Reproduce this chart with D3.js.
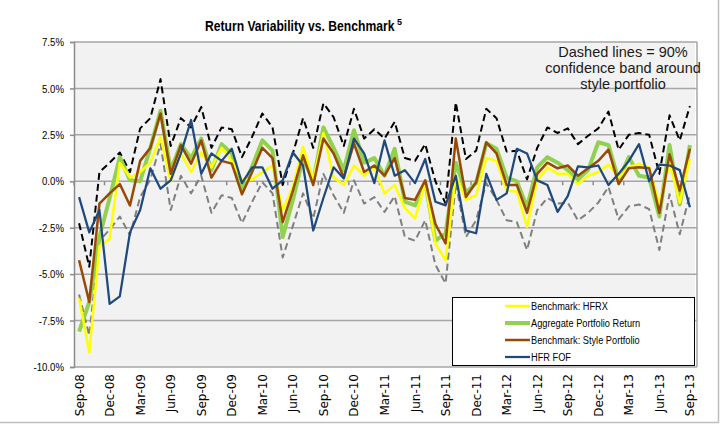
<!DOCTYPE html>
<html>
<head>
<meta charset="utf-8">
<script src="https://cdn.jsdelivr.net/npm/d3@7"></script>
<style>
  body { margin: 0; background: #fff; }
  .sans { font-family: "Liberation Sans", Arial, sans-serif; }
</style>
</head>
<body>
<div class="chart"></div>
<script>

// categories
var months = [
  "Sep-08","Oct-08","Nov-08","Dec-08","Jan-09","Feb-09","Mar-09","Apr-09","May-09","Jun-09",
  "Jul-09","Aug-09","Sep-09","Oct-09","Nov-09","Dec-09","Jan-10","Feb-10","Mar-10","Apr-10",
  "May-10","Jun-10","Jul-10","Aug-10","Sep-10","Oct-10","Nov-10","Dec-10","Jan-11","Feb-11",
  "Mar-11","Apr-11","May-11","Jun-11","Jul-11","Aug-11","Sep-11","Oct-11","Nov-11","Dec-11",
  "Jan-12","Feb-12","Mar-12","Apr-12","May-12","Jun-12","Jul-12","Aug-12","Sep-12","Oct-12",
  "Nov-12","Dec-12","Jan-13","Feb-13","Mar-13","Apr-13","May-13","Jun-13","Jul-13","Aug-13",
  "Sep-13"
];

// monthly returns (%)
var hfrx = [
  -6.3, -9.2, -3.5, -3.1, 1.0, 0.2, 0.5, 1.0, 2.4, 0.0,
  1.5, 0.5, 1.55, 0.75, 1.8, 1.1, 0.1, 0.1, 0.5, 0.85,
  -1.55, -0.3, 1.85, 0.1, 2.6, 0.2, -0.2, 0.85, 0.3, 0.75,
  -0.65, -0.2, -1.45, -2.0, -0.1, -3.35, -4.25, 0.3, -1.0, -0.75,
  1.25, 1.1, -0.5, -0.55, -2.45, 0.05, 0.75, 0.4, 0.4, -0.15,
  0.3, 0.5, 0.9, 0.2, 0.75, 0.95, 0.75, -1.25, 1.0, -1.15,
  1.2
];
var aggregate = [
  -8.1, -6.5, -3.0, -0.9, 1.3, 0.05, 0.0, 1.8, 3.8, 0.6,
  2.0, 1.25, 2.3, 0.6, 2.0, 1.5, -0.5, 0.8, 2.2, 1.65,
  -3.0, -1.0, 1.25, 0.0, 2.9, 1.8, 0.6, 2.75, 1.0, 1.25,
  0.3, 1.75, -1.1, -1.3, -0.05, -3.2, -2.8, 1.0, -0.6, -0.1,
  2.05, 1.75, 0.2, 0.0, -1.4, 0.75, 1.3, 1.0, 0.6, 0.1,
  0.6, 2.1, 1.95, 0.05, 1.3, 0.3, 0.2, -1.9, 1.95, -1.25,
  1.95
];
var stylePortfolio = [
  -4.25, -6.5, -1.2, -0.65, -0.15, -1.3, 1.1, 1.8, 3.65, 0.4,
  1.95, 0.95, 2.2, 0.2, 1.1, 0.95, -0.7, 0.5, 1.8, 1.25,
  -2.2, -0.5, 1.4, -0.2, 2.3, 1.5, 0.2, 2.05, 0.5, 0.85,
  0.3, 1.25, -0.9, -1.0, 0.05, -2.3, -3.35, 2.3, -0.85, -0.05,
  2.1, 1.5, -0.2, -0.2, -1.7, 0.4, 1.0, 0.7, 0.85, 0.3,
  0.7, 1.1, 1.7, -0.15, 0.7, 0.75, 0.7, -1.7, 1.45, -0.5,
  1.75
];
var hfrFof = [
  -0.85, -2.75, -1.55, -6.6, -6.2, -2.75, -1.55, 0.7, -0.4, 0.05,
  1.5, 3.3, 0.4, 1.5, 1.1, 1.75, -0.1, 0.75, 0.75, -0.4,
  0.05, 1.55, 0.85, -2.65, -0.9, 0.75, 0.15, 2.3, 1.5, -0.1,
  2.2, 0.3, 0.6, -0.1, 1.2, -1.1, -1.3, 0.3, -2.65, -2.8,
  0.4, -1.0, -0.65, 1.75, 1.5, 0.05, -0.2, -1.65, -0.8, 0.8,
  0.75, 0.85, -0.2, 0.4, 1.1, 2.0, 0.0, 0.9, 0.85, 0.6,
  -1.4
];
// 90% confidence band around style portfolio
var bandUpper = [
  -2.26, -4.6, 0.5, 1.0, 1.55, 0.5, 2.85, 3.4, 5.5, 1.9,
  3.4, 2.9, 4.0, 1.8, 2.9, 2.8, 1.3, 2.4, 3.65, 2.9,
  -0.2, 1.5, 3.4, 1.8, 4.2, 3.45, 1.9, 3.9, 2.3, 2.8,
  2.3, 3.2, 1.25, 1.1, 2.0, 0.0, -1.2, 4.25, 1.2, 1.65,
  3.9, 3.4, 1.6, 1.65, 0.1, 1.8, 2.9, 2.6, 2.85, 2.0,
  2.45, 2.85, 3.75, 1.7, 2.5, 2.6, 2.5, 0.4, 3.55, 2.2,
  4.05
];
var bandLower = [
  -6.1, -8.3, -3.2, -2.6, -1.9, -2.9, -0.85, 0.1, 2.0, -1.55,
  0.3, -0.65, 0.3, -1.7, -0.75, -0.9, -2.25, -1.1, -0.05, -0.65,
  -4.1, -2.4, -0.65, -2.0, 0.4, -0.75, -1.7, 0.05, -1.2, -0.85,
  -1.65, -0.8, -3.0, -3.2, -2.1, -4.5, -5.5, -0.1, -3.0, -2.1,
  -0.1, -1.0, -2.1, -2.2, -3.7, -1.55, -0.9, -1.2, -1.15, -2.1,
  -1.7, -1.15, -0.3, -2.05, -1.35, -1.25, -1.5, -3.7, -0.7, -2.85,
  -0.7
];

var yTicks = [-10, -7.5, -5, -2.5, 0, 2.5, 5, 7.5];

// dimensions
var width = 723, height = 426;
var plot = {left: 74, right: 695, top: 42, bottom: 367};
var squeeze = 0.84;   // narrow text, closer to the original Calibri

var svg = d3.select(".chart")
  .append("svg")
  .attr("width", width)
  .attr("height", height);

// scales
var x = d3.scalePoint()
  .domain(months)
  .range([plot.left, plot.right])
  .padding(0.5);
var y = d3.scaleLinear()
  .domain([-10, 7.5])
  .range([plot.bottom, plot.top]);

// outer frame (right / bottom edges visible)
svg.append("line")
  .attr("x1", 718.5).attr("x2", 718.5).attr("y1", 0).attr("y2", 423)
  .attr("stroke", "#bfbfbf").attr("stroke-width", 1.5);
svg.append("line")
  .attr("x1", 0).attr("x2", 719).attr("y1", 422.5).attr("y2", 422.5)
  .attr("stroke", "#bfbfbf").attr("stroke-width", 1.5);

// plot area
svg.append("rect")
  .attr("x", plot.left)
  .attr("y", plot.top)
  .attr("width", plot.right - plot.left)
  .attr("height", plot.bottom - plot.top)
  .attr("fill", "#f2f2f2");

// gridlines
svg.selectAll(".grid")
  .data(yTicks)
  .enter()
  .append("line")
  .attr("class", "grid")
  .attr("x1", plot.left)
  .attr("x2", plot.right + 2)
  .attr("y1", function(d) { return y(d); })
  .attr("y2", function(d) { return y(d); })
  .attr("stroke", "#a6a6a6")
  .attr("stroke-width", 1.5);

// right edge of plot area
svg.append("line")
  .attr("x1", plot.right + 2).attr("x2", plot.right + 2)
  .attr("y1", plot.top).attr("y2", plot.bottom)
  .attr("stroke", "#a6a6a6").attr("stroke-width", 1.5);

// y axis
var yAxis = svg.append("g")
  .attr("transform", "translate(" + plot.left + ",0)")
  .call(d3.axisLeft(y)
    .tickValues(yTicks)
    .tickSize(4)
    .tickFormat(function(d) { return d.toFixed(1) + "%"; }));
yAxis.select(".domain").attr("stroke", "#8c8c8c").attr("stroke-width", 1.5);
yAxis.selectAll(".tick line").attr("stroke", "#8c8c8c").attr("stroke-width", 1.5);
yAxis.selectAll(".tick text")
  .attr("class", "sans")
  .attr("x", -10 / squeeze)
  .attr("transform", "scale(" + squeeze + ",1)")
  .attr("font-size", "11.5px")
  .attr("fill", "#000");

// category ticks on the 0% line, every 3 months
var step = x.step();
var tickIdx = d3.range(0, months.length, 3);
svg.selectAll(".xtick")
  .data(tickIdx)
  .enter()
  .append("line")
  .attr("class", "xtick")
  .attr("x1", function(i) { return x(months[i]) - step / 2; })
  .attr("x2", function(i) { return x(months[i]) - step / 2; })
  .attr("y1", y(0))
  .attr("y2", y(0) + 4)
  .attr("stroke", "#8c8c8c")
  .attr("stroke-width", 1.5);

// category labels at the bottom
svg.selectAll(".xlabel")
  .data(tickIdx)
  .enter()
  .append("text")
  .attr("class", "xlabel")
  .attr("transform", function(i) {
    return "translate(" + (x(months[i]) + 4.5) + "," + (plot.bottom + 7) + ") rotate(-90)";
  })
  .attr("text-anchor", "end")
  .attr("font-family", "DejaVu Sans, Verdana, sans-serif")
  .attr("font-size", "12px")
  .text(function(i) { return months[i]; });

// lines
var line = d3.line()
  .x(function(d, i) { return x(months[i]); })
  .y(function(d) { return y(d); });

var series = [
  {values: bandLower, color: "#7f7f7f", w: 2, dash: "7,4"},
  {values: bandUpper, color: "#000000", w: 2, dash: "7,4"},
  {values: aggregate, color: "#92d050", w: 4},
  {values: hfrx, color: "#ffff00", w: 2.5},
  {values: stylePortfolio, color: "#984807", w: 2.5},
  {values: hfrFof, color: "#1f497d", w: 2.25}
];

svg.selectAll(".series")
  .data(series)
  .enter()
  .append("path")
  .attr("class", "series")
  .attr("d", function(s) { return line(s.values); })
  .attr("fill", "none")
  .attr("stroke", function(s) { return s.color; })
  .attr("stroke-width", function(s) { return s.w; })
  .attr("stroke-dasharray", function(s) { return s.dash || null; })
  .attr("stroke-linejoin", "round");

// title with superscript note
svg.append("text")
  .attr("class", "sans")
  .attr("transform", "translate(205,31) scale(0.81,1)")
  .attr("font-size", "15px")
  .attr("font-weight", "bold")
  .text("Return Variability vs. Benchmark");
svg.append("text")
  .attr("class", "sans")
  .attr("x", 397)
  .attr("y", 25)
  .attr("font-size", "9px")
  .attr("font-weight", "bold")
  .text("5");

// note
var note = ["Dashed lines = 90%", "confidence band around", "style portfolio"];
svg.selectAll(".note")
  .data(note)
  .enter()
  .append("text")
  .attr("class", "note sans")
  .attr("x", 623)
  .attr("y", function(d, i) { return 57 + i * 16; })
  .attr("text-anchor", "middle")
  .attr("font-size", "14.5px")
  .attr("fill", "#1a1a1a")
  .text(function(d) { return d; });

// legend
var legendItems = [
  {name: "Benchmark: HFRX", color: "#ffff00", w: 2.5},
  {name: "Aggregate Portfolio Return", color: "#92d050", w: 4},
  {name: "Benchmark: Style Portfolio", color: "#984807", w: 2.5},
  {name: "HFR FOF", color: "#1f497d", w: 2.25}
];
svg.append("rect")
  .attr("x", 452.5)
  .attr("y", 297.5)
  .attr("width", 242)
  .attr("height", 68)
  .attr("fill", "#fff")
  .attr("stroke", "#000")
  .attr("stroke-width", 1);
var legend = svg.selectAll(".legend")
  .data(legendItems)
  .enter()
  .append("g")
  .attr("class", "legend")
  .attr("transform", function(d, i) { return "translate(505," + (306 + i * 17) + ")"; });
legend.append("line")
  .attr("x1", 0).attr("x2", 25)
  .attr("stroke", function(d) { return d.color; })
  .attr("stroke-width", function(d) { return d.w; });
legend.append("text")
  .attr("class", "sans")
  .attr("transform", "translate(26,4) scale(" + squeeze + ",1)")
  .attr("font-size", "11px")
  .text(function(d) { return d.name; });

</script>
</body>
</html>
